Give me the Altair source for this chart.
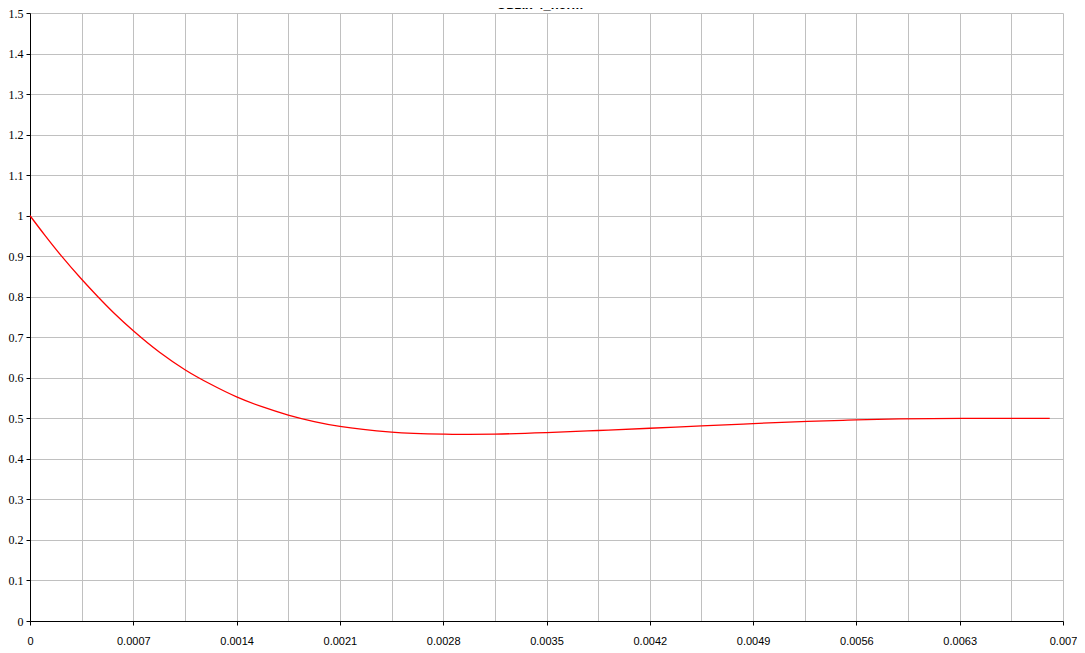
import altair as alt
import pandas as pd

title_text = ["Uвых 4_norm"]

t_values = [0, 0.0001, 0.000214, 0.00035, 0.00046, 0.000574, 0.0007, 0.000878,
            0.00105, 0.001225, 0.0014, 0.001577, 0.00175, 0.001926, 0.0021,
            0.00245, 0.0028, 0.0029, 0.00315, 0.0035, 0.00385, 0.0042, 0.00455,
            0.0049, 0.00527, 0.00554, 0.00589, 0.00643, 0.00691]
y_values = [1.0, 0.952, 0.900, 0.843, 0.800, 0.758, 0.716, 0.663,
            0.620, 0.584, 0.553, 0.528, 0.508, 0.492, 0.480,
            0.466, 0.461, 0.4605, 0.4612, 0.4648, 0.4700, 0.4755, 0.4815,
            0.4870, 0.4925, 0.4955, 0.4985, 0.500, 0.500]

x_tick_values = [round(i * 0.00035, 5) for i in range(21)]
y_tick_values = [round(i * 0.1, 1) for i in range(16)]

df = pd.DataFrame({"t": t_values, "y": y_values})

x_axis = alt.Axis(
    values=x_tick_values,
    title=None,
    grid=True,
    gridColor="#c0c0c0",
    gridWidth=1,
    domainColor="#000000",
    domainWidth=1,
    tickColor="#000000",
    tickSize=4,
    tickOpacity={"condition": {"test": "round(datum.value / 0.00035) % 2 == 0", "value": 1}, "value": 0},
    labelExpr="round(datum.value / 0.00035) % 2 == 0 ? format(datum.value, '.4~f') : ''",
    labelFont="Liberation Sans",
    labelFontSize=11,
    labelColor="#000000",
    labelPadding=10,
    labelFlush=False,
    labelOverlap=False,
)

y_axis = alt.Axis(
    values=y_tick_values,
    title=None,
    grid=True,
    gridColor="#c0c0c0",
    gridWidth=1,
    domainColor="#000000",
    domainWidth=1,
    tickColor="#000000",
    tickSize=4,
    labelExpr="format(datum.value, '.1~f')",
    labelFont="Liberation Serif",
    labelFontSize=12,
    labelColor="#000000",
    labelPadding=3,
    labelFlush=False,
    labelOverlap=False,
)

line = alt.Chart(df).mark_line(color="#ff0000", strokeWidth=1.3, interpolate="monotone").encode(
    x=alt.X("t:Q", scale=alt.Scale(domain=[0, 0.007], nice=False, zero=False), axis=x_axis),
    y=alt.Y("y:Q", scale=alt.Scale(domain=[0, 1.5], nice=False), axis=y_axis),
)

title = alt.Chart(pd.DataFrame({"label": title_text})).mark_text(
    font="Liberation Sans", fontSize=13, fontWeight="bold", color="#000000",
    baseline="bottom", align="center"
).encode(
    text="label:N",
    x=alt.value(510),
    y=alt.value(-1),
)

chart = alt.layer(line, title).properties(
    width=1033,
    height=608,
    autosize=alt.AutoSizeParams(type="none"),
    padding={"left": 22, "top": 5, "right": 14, "bottom": 28},
    background="#ffffff",
).configure_view(stroke=None)

chart.save("out.html", embed_options={"renderer": "svg", "actions": False})
